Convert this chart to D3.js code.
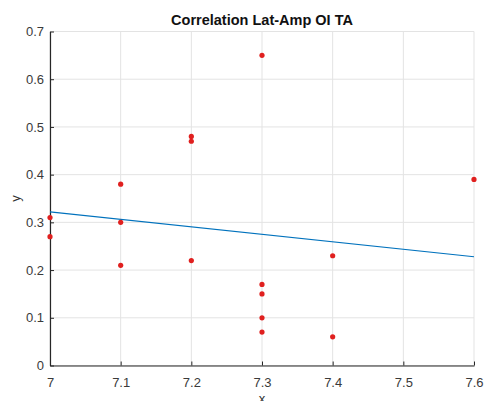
<!DOCTYPE html>
<html>
<head>
<meta charset="utf-8">
<script src="https://cdn.jsdelivr.net/npm/d3@7"></script>
<style>
  html, body { margin: 0; padding: 0; background: #fff; }
  svg { display: block; font-family: "Liberation Sans", Arial, Helvetica, sans-serif; }
</style>
</head>
<body>
<svg id="chart" width="484" height="401"></svg>
<script>
// Latitude (x) and amplitude (y) samples
const xValues = [7.0, 7.0, 7.1, 7.1, 7.1, 7.2, 7.2, 7.2, 7.3, 7.3, 7.3, 7.3, 7.3, 7.4, 7.4, 7.6];
const yValues = [0.31, 0.27, 0.38, 0.30, 0.21, 0.48, 0.47, 0.22, 0.65, 0.17, 0.15, 0.10, 0.07, 0.23, 0.06, 0.39];

// Fitted trend line end points
const fitX = [7.0, 7.6];
const fitY = [0.322, 0.228];

// Axis ticks
const xTicks = [7.0, 7.1, 7.2, 7.3, 7.4, 7.5, 7.6];
const xTickLabels = ["7", "7.1", "7.2", "7.3", "7.4", "7.5", "7.6"];
const yTicks = [0, 0.1, 0.2, 0.3, 0.4, 0.5, 0.6, 0.7];
const yTickLabels = ["0", "0.1", "0.2", "0.3", "0.4", "0.5", "0.6", "0.7"];

const title = "Correlation Lat-Amp OI TA";

const svg = d3.select("#chart");
const plotLeft = 50, plotRight = 474, plotTop = 31.5, plotBottom = 365.5;

const x = d3.scaleLinear().domain([7.0, 7.6]).range([plotLeft, plotRight]);
const y = d3.scaleLinear().domain([0, 0.7]).range([plotBottom, plotTop]);

// Grid
const grid = svg.append("g");
grid.selectAll("line.gx").data(xTicks).join("line")
  .attr("class", "gx")
  .attr("x1", d => x(d)).attr("x2", d => x(d))
  .attr("y1", plotTop).attr("y2", plotBottom)
  .attr("stroke", "#e3e3e3").attr("stroke-width", 1);
grid.selectAll("line.gy").data(yTicks).join("line")
  .attr("class", "gy")
  .attr("x1", plotLeft).attr("x2", plotRight)
  .attr("y1", d => y(d)).attr("y2", d => y(d))
  .attr("stroke", "#e3e3e3").attr("stroke-width", 1);

// Axes (ticks point inward)
const xAxis = d3.axisBottom(x).tickValues(xTicks)
  .tickFormat((d, i) => xTickLabels[i]).tickSizeInner(-4).tickSizeOuter(0).tickPadding(12);
const yAxis = d3.axisLeft(y).tickValues(yTicks)
  .tickFormat((d, i) => yTickLabels[i]).tickSizeInner(-4).tickSizeOuter(0).tickPadding(6);

const gx = svg.append("g").attr("transform", `translate(0,${plotBottom})`).call(xAxis);
const gy = svg.append("g").attr("transform", `translate(${plotLeft},0)`).call(yAxis);
[gx, gy].forEach(g => {
  g.select(".domain").attr("stroke", "#262626").attr("stroke-width", 1.2);
  g.selectAll(".tick line").attr("stroke", "#262626");
  g.selectAll(".tick text").attr("fill", "#3a3a3a").style("font-size", "13px")
    .style("font-family", "'Liberation Sans', Arial, sans-serif");
});

// Trend line
svg.append("line")
  .attr("x1", x(fitX[0])).attr("y1", y(fitY[0]))
  .attr("x2", x(fitX[1])).attr("y2", y(fitY[1]))
  .attr("stroke", "#0072BD").attr("stroke-width", 1.1);

// Points
svg.append("g").selectAll("circle").data(xValues).join("circle")
  .attr("cx", d => x(d))
  .attr("cy", (d, i) => y(yValues[i]))
  .attr("r", 2.6)
  .attr("fill", "#e0201f");

// Title and axis labels
svg.append("text")
  .attr("x", (plotLeft + plotRight) / 2).attr("y", 25)
  .attr("text-anchor", "middle")
  .style("font-size", "14.5px").style("font-weight", "bold")
  .attr("fill", "#111")
  .text(title);

svg.append("text")
  .attr("transform", `translate(20,${(plotTop + plotBottom) / 2}) rotate(-90)`)
  .attr("text-anchor", "middle")
  .style("font-size", "13px").attr("fill", "#333")
  .text("y");

svg.append("text")
  .attr("x", (plotLeft + plotRight) / 2).attr("y", 403)
  .attr("text-anchor", "middle")
  .style("font-size", "13px").attr("fill", "#333")
  .text("x");
</script>
</body>
</html>
